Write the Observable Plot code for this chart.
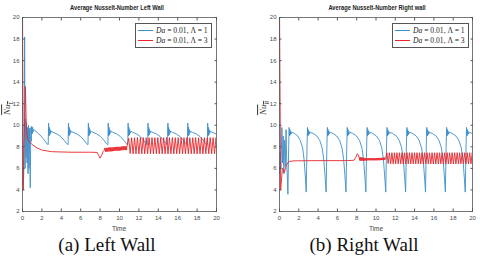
<!DOCTYPE html>
<html>
<head>
<meta charset="utf-8">
<script src="https://cdn.jsdelivr.net/npm/d3@7"></script>
<script src="https://cdn.jsdelivr.net/npm/@observablehq/plot@0.6"></script>
<style>
  body { margin: 0; background: #fff; }
  #root { position: relative; width: 480px; height: 261px; overflow: hidden; background: #fff; font-family: "Liberation Sans", Arial, sans-serif; }
  .panel { position: absolute; top: 0; width: 240px; height: 261px; }
  .panel svg { position: absolute; left: 0; top: 0; }
  .title { position: absolute; top: 3px; font-size: 7.2px; font-weight: bold; color: #222; white-space: nowrap; transform: translateX(-50%) scaleX(0.8); }
  .xlab { position: absolute; top: 225px; font-size: 6.5px; color: #444; transform: translateX(-50%); }
  .ylab { position: absolute; font-family: "Liberation Serif", serif; font-style: italic; font-size: 9px; color: #333; transform: translate(-50%, -50%) rotate(-90deg); white-space: nowrap; }
  .ylab span { text-decoration: overline; }
  .ylab sub { font-size: 6px; }
  .caption { position: absolute; top: 234px; font-family: "Liberation Serif", "Times New Roman", serif; font-size: 19px; color: #111; white-space: nowrap; transform: translateX(-50%); }
  .legend { position: absolute; top: 23px; width: 75px; height: 23px; border: 1px solid #555; background: #fff; font-family: "Liberation Serif", serif; font-size: 7.6px; color: #222; }
  .row { position: absolute; left: 2px; height: 10px; display: flex; align-items: center; white-space: nowrap; }
  .sw { width: 15px; height: 0; border-top: 1px solid; margin-right: 3px; }
  .row i { font-style: italic; }
</style>
</head>
<body>
<div id="root"></div>
<script>
// ---- data ----
const xTicks = [0, 2, 4, 6, 8, 10, 12, 14, 16, 18, 20];
const yTicks = [2, 4, 6, 8, 10, 12, 14, 16, 18, 20];
const seriesNames = ["Da = 0.01, Λ = 1", "Da = 0.01, Λ = 3"];
const seriesColors = ["#3d8fc9", "#e8262b"];
const panelTitles = ["Average Nusselt-Number Left Wall", "Average Nusselt-Number Right wall"];
const panelCaptions = ["(a) Left Wall", "(b) Right Wall"];

// Left wall, Λ = 1  [time, Nu]
const leftLambda1 = [
 [0,4.5],[0.12,5.2],[0.18,9],[0.22,18.2],[0.27,6],[0.32,10.6],[0.37,7],[0.42,10.2],[0.47,6.5],[0.52,9.8],[0.57,5.5],[0.62,10],[0.67,6],[0.72,9.7],[0.8,4.2],[0.86,9.8],[0.9,8.5],[0.95,9.9],[1.0,9.2],[1.05,9.8],[1.1,9.4],[1.2,9.6],[1.4,9.4],[1.8,9.1],[2.1,8.8],[2.4,8.45],[2.55,8.25],
 [2.65,8.2],[2.69,10.2],[2.73,9.0],[2.77,9.8],[2.81,9.1],[2.85,9.6],[2.9,9.25],[2.97,9.45],[3.15,9.35],[3.55,9.2],[3.95,8.95],[4.3,8.6],[4.55,8.3],
 [4.7,8.2],[4.74,10.2],[4.78,9.0],[4.82,9.8],[4.86,9.1],[4.9,9.6],[4.95,9.25],[5.02,9.45],[5.2,9.35],[5.6,9.2],[6.0,8.95],[6.35,8.6],[6.6,8.3],
 [6.75,8.2],[6.79,10.2],[6.83,9.0],[6.87,9.8],[6.91,9.1],[6.95,9.6],[7.0,9.25],[7.07,9.45],[7.25,9.35],[7.65,9.2],[8.05,8.95],[8.4,8.6],[8.65,8.3],
 [8.8,8.2],[8.84,10.2],[8.88,9.0],[8.92,9.8],[8.96,9.1],[9.0,9.6],[9.05,9.25],[9.12,9.45],[9.3,9.35],[9.7,9.2],[10.1,8.95],[10.45,8.6],[10.7,8.3],
 [10.85,8.2],[10.89,10.2],[10.93,9.0],[10.97,9.8],[11.01,9.1],[11.05,9.6],[11.1,9.25],[11.17,9.45],[11.35,9.35],[11.75,9.2],[12.15,8.95],[12.5,8.6],[12.75,8.3],
 [12.9,8.2],[12.94,10.2],[12.98,9.0],[13.02,9.8],[13.06,9.1],[13.1,9.6],[13.15,9.25],[13.22,9.45],[13.4,9.35],[13.8,9.2],[14.2,8.95],[14.55,8.6],[14.8,8.3],
 [14.95,8.2],[14.99,10.2],[15.03,9.0],[15.07,9.8],[15.11,9.1],[15.15,9.6],[15.2,9.25],[15.27,9.45],[15.45,9.35],[15.85,9.2],[16.25,8.95],[16.6,8.6],[16.85,8.3],
 [17.0,8.2],[17.04,10.2],[17.08,9.0],[17.12,9.8],[17.16,9.1],[17.2,9.6],[17.25,9.25],[17.32,9.45],[17.5,9.35],[17.9,9.2],[18.3,8.95],[18.65,8.6],[18.9,8.3],
 [19.05,8.2],[19.09,10.2],[19.13,9.0],[19.17,9.8],[19.21,9.1],[19.25,9.6],[19.3,9.25],[19.37,9.45],[19.55,9.35],[19.95,9.2],[20,9.18]
];

// Left wall, Λ = 3
const leftLambda3 = [
 [0,21],[0.08,4.0],[0.15,8.0],[0.3,13.6],[0.4,9.5],[0.5,8.8],[0.7,8.5],[1.0,8.2],[1.5,7.9],[2.0,7.7],[3.0,7.55],[5.0,7.5],[7.0,7.5],[7.7,7.48],[7.85,7.2],[8.0,6.95],[8.15,7.2],[8.3,7.55],[8.45,7.7],
 [8.5,7.9],[8.56,7.55],[8.62,7.9],[8.68,7.55],[8.74,7.9],[8.8,7.56],[8.86,7.92],[8.92,7.57],[8.98,7.93],[9.04,7.58],[9.1,7.94],[9.16,7.59],[9.22,7.95],[9.28,7.6],[9.34,7.96],[9.4,7.61],[9.46,7.97],[9.52,7.62],[9.58,7.98],[9.64,7.63],[9.7,7.99],[9.76,7.64],[9.82,8.0],[9.88,7.65],[9.94,8.0],[10.0,7.66],[10.06,8.01],[10.12,7.67],[10.18,8.02],[10.24,7.68],[10.3,8.03],[10.36,7.69],[10.42,8.04],[10.48,7.7],[10.54,8.05],[10.6,7.7],[10.66,8.05],[10.72,7.7],[10.78,8.1],
 [10.95,8.8],[11.1,7.38],[11.25,8.85],[11.4,7.35],[11.55,8.85],[11.7,7.35],[11.85,8.86],[12.0,7.34],[12.15,8.85],[12.3,7.35],[12.45,8.86],[12.6,7.34],[12.75,8.85],[12.9,7.35],[13.05,8.85],[13.2,7.35],[13.35,8.86],[13.5,7.34],[13.65,8.85],[13.8,7.35],[13.95,8.86],[14.1,7.34],[14.25,8.85],[14.4,7.35],[14.55,8.85],[14.7,7.35],[14.85,8.86],[15.0,7.34],[15.15,8.85],[15.3,7.35],[15.45,8.86],[15.6,7.34],[15.75,8.85],[15.9,7.35],[16.05,8.85],[16.2,7.35],[16.35,8.86],[16.5,7.34],[16.65,8.85],[16.8,7.35],[16.95,8.86],[17.1,7.34],[17.25,8.85],[17.4,7.35],[17.55,8.85],[17.7,7.35],[17.85,8.86],[18.0,7.34],[18.15,8.85],[18.3,7.35],[18.45,8.86],[18.6,7.34],[18.75,8.85],[18.9,7.35],[19.05,8.85],[19.2,7.35],[19.35,8.86],[19.5,7.34],[19.65,8.85],[19.8,7.35],[19.95,8.85],[20,8.4]
];

// Right wall, Λ = 1
const rightLambda1 = [
 [0,5.5],[0.08,7.5],[0.15,6.0],[0.25,9.8],[0.32,6.5],[0.38,9.0],[0.45,5.5],[0.52,8.6],[0.6,6.2],[0.68,9.6],[0.75,6.5],[0.82,5.0],[0.87,3.6],
 [0.95,8.0],[1.0,9.8],[1.04,9.0],[1.08,9.6],[1.12,9.1],[1.16,9.45],[1.21,9.2],[1.29,9.35],[1.55,9.25],[1.9,9.0],[2.15,8.6],[2.4,7.9],[2.55,6.8],[2.67,5.3],
 [2.77,3.8],[2.85,8.0],[2.9,9.8],[2.94,9.0],[2.98,9.6],[3.02,9.1],[3.06,9.45],[3.11,9.2],[3.19,9.35],[3.47,9.25],[3.87,9.0],[4.17,8.6],[4.42,7.9],[4.59,6.8],[4.72,5.3],
 [4.83,3.8],[4.91,8.0],[4.96,9.8],[5.0,9.0],[5.04,9.6],[5.08,9.1],[5.12,9.45],[5.17,9.2],[5.25,9.35],[5.53,9.25],[5.93,9.0],[6.23,8.6],[6.48,7.9],[6.65,6.8],[6.78,5.3],
 [6.89,3.8],[6.97,8.0],[7.02,9.8],[7.06,9.0],[7.1,9.6],[7.14,9.1],[7.18,9.45],[7.23,9.2],[7.31,9.35],[7.59,9.25],[7.99,9.0],[8.29,8.6],[8.54,7.9],[8.71,6.8],[8.84,5.3],
 [8.95,3.8],[9.03,8.0],[9.08,9.8],[9.12,9.0],[9.16,9.6],[9.2,9.1],[9.24,9.45],[9.29,9.2],[9.37,9.35],[9.65,9.25],[10.05,9.0],[10.35,8.6],[10.6,7.9],[10.77,6.8],[10.9,5.3],
 [11.01,3.8],[11.09,8.0],[11.14,9.8],[11.18,9.0],[11.22,9.6],[11.26,9.1],[11.3,9.45],[11.35,9.2],[11.43,9.35],[11.71,9.25],[12.11,9.0],[12.41,8.6],[12.66,7.9],[12.83,6.8],[12.96,5.3],
 [13.07,3.8],[13.15,8.0],[13.2,9.8],[13.24,9.0],[13.28,9.6],[13.32,9.1],[13.36,9.45],[13.41,9.2],[13.49,9.35],[13.77,9.25],[14.17,9.0],[14.47,8.6],[14.72,7.9],[14.89,6.8],[15.02,5.3],
 [15.13,3.8],[15.21,8.0],[15.26,9.8],[15.3,9.0],[15.34,9.6],[15.38,9.1],[15.42,9.45],[15.47,9.2],[15.55,9.35],[15.83,9.25],[16.23,9.0],[16.53,8.6],[16.78,7.9],[16.95,6.8],[17.08,5.3],
 [17.19,3.8],[17.27,8.0],[17.32,9.8],[17.36,9.0],[17.4,9.6],[17.44,9.1],[17.48,9.45],[17.53,9.2],[17.61,9.35],[17.89,9.25],[18.29,9.0],[18.59,8.6],[18.84,7.9],[19.01,6.8],[19.14,5.3],
 [19.25,3.8],[19.33,8.0],[19.38,9.8],[19.42,9.0],[19.46,9.6],[19.5,9.1],[19.54,9.45],[19.59,9.2],[19.67,9.35],[19.95,9.25],[20,9.22]
];

// Right wall, Λ = 3
const rightLambda3 = [
 [0,21],[0.12,4.0],[0.3,6.0],[0.5,5.6],[0.7,6.3],[1.0,6.65],[1.5,6.7],[4.0,6.72],[7.0,6.72],[7.7,6.75],[7.9,7.0],[8.05,7.35],[8.15,7.3],[8.25,7.05],
 [8.3,6.75],[8.36,7.05],[8.42,6.7],[8.48,7.02],[8.54,6.7],[8.6,7.0],[8.66,6.72],[8.72,6.98],[8.78,6.72],[8.84,6.97],[8.9,6.73],[8.96,6.96],[9.02,6.74],[9.08,6.95],[9.14,6.74],[9.2,6.95],[9.26,6.75],[9.32,6.95],[9.38,6.75],[9.44,6.95],[9.5,6.75],[9.56,6.95],[9.62,6.75],[9.68,6.95],[9.74,6.75],[9.8,6.95],[9.86,6.75],[9.92,6.95],[9.98,6.75],[10.04,6.96],[10.1,6.75],[10.16,6.96],[10.22,6.76],[10.28,6.97],[10.34,6.76],[10.4,6.97],[10.46,6.76],[10.52,6.98],[10.58,6.77],[10.64,6.98],[10.7,6.77],[10.76,6.99],[10.82,6.78],[10.88,7.0],[10.94,6.8],
 [11.0,6.9],[11.13,7.45],[11.26,6.45],[11.39,7.45],[11.52,6.42],[11.65,7.46],[11.78,6.42],[11.91,7.45],[12.04,6.42],[12.17,7.46],[12.3,6.42],[12.43,7.45],[12.56,6.42],[12.69,7.46],[12.82,6.42],[12.95,7.45],[13.08,6.42],[13.21,7.46],[13.34,6.42],[13.47,7.45],[13.6,6.42],[13.73,7.46],[13.86,6.42],[13.99,7.45],[14.12,6.42],[14.25,7.46],[14.38,6.42],[14.51,7.45],[14.64,6.42],[14.77,7.46],[14.9,6.42],[15.03,7.45],[15.16,6.42],[15.29,7.46],[15.42,6.42],[15.55,7.45],[15.68,6.42],[15.81,7.46],[15.94,6.42],[16.07,7.45],[16.2,6.42],[16.33,7.46],[16.46,6.42],[16.59,7.45],[16.72,6.42],[16.85,7.46],[16.98,6.42],[17.11,7.45],[17.24,6.42],[17.37,7.46],[17.5,6.42],[17.63,7.45],[17.76,6.42],[17.89,7.46],[18.02,6.42],[18.15,7.45],[18.28,6.42],[18.41,7.46],[18.54,6.42],[18.67,7.45],[18.8,6.42],[18.93,7.46],[19.06,6.42],[19.19,7.45],[19.32,6.42],[19.45,7.46],[19.58,6.42],[19.71,7.45],[19.84,6.42],[19.97,7.46],[20,7.3]
];

const panels = [
  {left: 0, marginLeft: 22, marginRight: 24, series: [leftLambda1, leftLambda3], sub: "L",
   legendLeft: 135, titleX: 117, xlabX: 119, ylabX: 8, captionX: 107},
  {left: 240, marginLeft: 39, marginRight: 8, series: [rightLambda1, rightLambda3], sub: "R",
   legendLeft: 152, titleX: 137, xlabX: 136, ylabX: 24, captionX: 124}
];

const root = document.getElementById("root");
const axisColor = "#555";

panels.forEach((p, i) => {
  const div = document.createElement("div");
  div.className = "panel";
  div.style.left = p.left + "px";
  root.appendChild(div);

  const chart = Plot.plot({
    width: 240,
    height: 235,
    marginTop: 17,
    marginBottom: 24,
    marginLeft: p.marginLeft,
    marginRight: p.marginRight,
    style: {background: "transparent", fontFamily: "Liberation Sans, Arial, sans-serif", fontSize: "6px", overflow: "visible"},
    x: {domain: [0, 20]},
    y: {domain: [2, 20]},
    marks: [
      ...p.series.map((s, k) => Plot.line(s, {x: d => d[0], y: d => d[1], stroke: seriesColors[k], strokeWidth: 0.9, clip: true})),
      Plot.frame({stroke: axisColor, strokeWidth: 0.8}),
      Plot.axisX({anchor: "bottom", ticks: xTicks, tickSize: -2.5, fill: "none", stroke: axisColor, label: null}),
      Plot.axisX({anchor: "top", ticks: xTicks, tickSize: -2.5, fill: "none", stroke: axisColor, label: null}),
      Plot.axisY({anchor: "left", ticks: yTicks, tickSize: -2.5, fill: "none", stroke: axisColor, label: null}),
      Plot.axisY({anchor: "right", ticks: yTicks, tickSize: -2.5, fill: "none", stroke: axisColor, label: null}),
      Plot.axisX({anchor: "bottom", ticks: xTicks, tickSize: 0, tickPadding: 4, fill: "#4a4a4a", label: null, fontSize: 6}),
      Plot.axisY({anchor: "left", ticks: yTicks, tickSize: 0, tickPadding: 3, fill: "#4a4a4a", label: null, fontSize: 6})
    ]
  });
  div.appendChild(chart);

  const title = document.createElement("div");
  title.className = "title";
  title.style.left = p.titleX + "px";
  title.textContent = panelTitles[i];
  div.appendChild(title);

  const xl = document.createElement("div");
  xl.className = "xlab";
  xl.style.left = p.xlabX + "px";
  xl.textContent = "Time";
  div.appendChild(xl);

  const yl = document.createElement("div");
  yl.className = "ylab";
  yl.style.left = p.ylabX + "px";
  yl.style.top = "108px";
  yl.innerHTML = '<span>Nu<sub>' + p.sub + '</sub></span>';
  div.appendChild(yl);

  const leg = document.createElement("div");
  leg.className = "legend";
  leg.style.left = p.legendLeft + "px";
  seriesNames.forEach((name, k) => {
    const row = document.createElement("div");
    row.className = "row";
    row.style.top = (1 + k * 10) + "px";
    const sw = document.createElement("div");
    sw.className = "sw";
    sw.style.borderColor = seriesColors[k];
    row.appendChild(sw);
    const txt = document.createElement("span");
    txt.innerHTML = '<i>Da</i> = ' + name.slice(5);
    row.appendChild(txt);
    leg.appendChild(row);
  });
  div.appendChild(leg);

  const cap = document.createElement("div");
  cap.className = "caption";
  cap.style.left = p.captionX + "px";
  cap.textContent = panelCaptions[i];
  div.appendChild(cap);
});
</script>
</body>
</html>
